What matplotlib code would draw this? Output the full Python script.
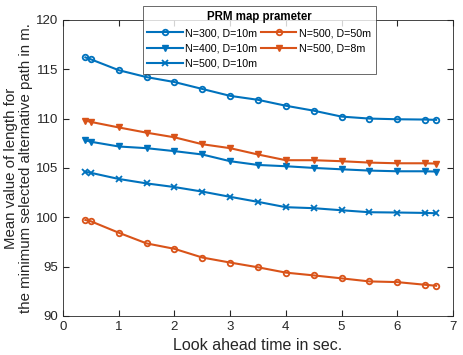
import matplotlib.pyplot as plt

plt.rcParams['font.family'] = ['Liberation Sans', 'DejaVu Sans']

# look ahead time (sec)
t = [0.4, 0.5, 1, 1.5, 2, 2.5, 3, 3.5, 4, 4.5, 5, 5.5, 6, 6.5, 6.7]

n300_d10 = [116.2, 116.0, 114.9, 114.2, 113.7, 113.0, 112.3, 111.9, 111.3, 110.8,
            110.2, 110.0, 109.93, 109.9, 109.87]
n400_d10 = [107.8, 107.65, 107.17, 107.0, 106.7, 106.36, 105.68, 105.3, 105.17, 105.0,
            104.86, 104.73, 104.66, 104.66, 104.63]
n500_d10 = [104.6, 104.5, 103.88, 103.43, 103.06, 102.6, 102.07, 101.56, 101.02, 100.92,
            100.71, 100.51, 100.48, 100.44, 100.41]
n500_d50 = [99.72, 99.59, 98.43, 97.35, 96.8, 95.92, 95.41, 94.93, 94.39, 94.11,
            93.81, 93.5, 93.43, 93.16, 93.06]
n500_d8 = [109.8, 109.66, 109.1, 108.57, 108.1, 107.4, 107.0, 106.36, 105.78, 105.78,
           105.68, 105.54, 105.47, 105.47, 105.44]

labels = ["N=300, D=10m", "N=400, D=10m", "N=500, D=10m", "N=500, D=50m", "N=500, D=8m"]
blue = "#0072BD"
orange = "#D95319"

fig = plt.figure(figsize=(4.64, 3.55), dpi=100)
ax = fig.add_axes([0.136, 0.11, 0.84, 0.834])

ax.plot(t, n300_d10, color=blue, lw=1.5, marker='o', ms=4, mfc='none', mew=1.3, label=labels[0])
ax.plot(t, n400_d10, color=blue, lw=1.5, marker='v', ms=5, label=labels[1])
ax.plot(t, n500_d10, color=blue, lw=1.5, marker='x', ms=4, mew=1.3, label=labels[2])
ax.plot(t, n500_d50, color=orange, lw=1.5, marker='o', ms=4, mfc='none', mew=1.3, label=labels[3])
ax.plot(t, n500_d8, color=orange, lw=1.5, marker='v', ms=5, label=labels[4])

ax.set_xlim(0, 7)
ax.set_ylim(90, 120)
ax.set_xticks(range(0, 8))
ax.set_yticks(range(90, 121, 5))
ax.tick_params(direction='in', top=True, right=True, labelsize=9.5, colors='#262626', length=4)
for s in ax.spines.values():
    s.set_color('#262626')
    s.set_linewidth(0.6)

ax.set_xlabel("Look ahead time in sec.", fontsize=11.5, color='#262626')
ax.set_ylabel("Mean value of length for\nthe minimum selected alternative path in m.",
              fontsize=10.8, color='#262626', labelpad=2, linespacing=1.1)

leg = ax.legend(ncol=2, loc='upper left', bbox_to_anchor=(0.19, 1.065),
                fontsize=7.7, title="PRM map prameter", title_fontproperties={'weight': 'bold', 'size': 8.3},
                frameon=True, fancybox=False, edgecolor='#262626', handlelength=3.3,
                columnspacing=0.35, handletextpad=0.25, labelspacing=0.5, borderpad=0.45)
leg.get_frame().set_linewidth(0.6)

fig.savefig("out.png", dpi=100)
